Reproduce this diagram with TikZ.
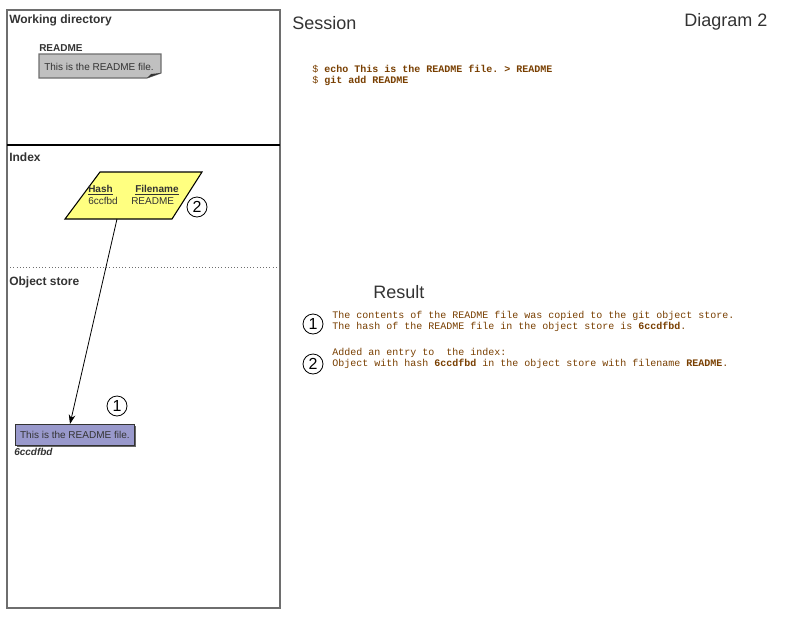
\documentclass[tikz,border=0pt]{standalone}
\usepackage{fontspec}
\setmainfont{Liberation Sans}
\setmonofont{Liberation Mono}
\usetikzlibrary{arrows.meta, shadows}
\definecolor{darktext}{RGB}{51,51,51}
\definecolor{paneline}{RGB}{110,110,110}
\definecolor{notegray}{RGB}{192,192,192}
\definecolor{idxyellow}{RGB}{255,255,128}
\definecolor{blobpurple}{RGB}{153,153,204}
\definecolor{monobrown}{RGB}{120,62,0}

\begin{document}
\begin{tikzpicture}[x=0.75pt, y=-0.75pt,
  area/.style={anchor=west, text=darktext, inner sep=0pt, font=\fontsize{9}{11}\selectfont\bfseries},
  heading/.style={anchor=west, text=darktext, inner sep=0pt, font=\fontsize{13.5}{16}\selectfont},
  small/.style={text=darktext, inner sep=0pt, font=\fontsize{7.5}{9}\selectfont},
  cmd/.style={anchor=west, text=monobrown, inner sep=0pt, align=left, font=\fontsize{7.5}{8.25}\selectfont\ttfamily},
  num/.style={circle, draw, semithick, inner sep=0pt, minimum size=15pt, font=\fontsize{12}{12}\selectfont},
  arr/.style={-{Stealth[length=7pt, width=5pt]}, semithick}
]
\useasboundingbox (0,0) rectangle (800,618);

% panel
\draw[paneline, thick] (7,10) rectangle (280,608);
\draw[line width=1.6pt] (7,145) -- (280,145);
\draw[dotted, paneline] (7,267) -- (280,267);
\node[area] (wd) at (9,20) {Working directory};
\node[area] (index) at (9,157) {Index};
\node[area] (store) at (9,282) {Object store};

% working directory file
\node[small, anchor=west, font=\fontsize{7.5}{9}\selectfont\bfseries] (wdname) at (39,48) {README};
\fill[notegray, draw=paneline, thick] (39,54) -- (161,54) -- (161,73) -- (147,78) -- (39,78) -- cycle;
\fill[black!80] (147,78) -- (151,74) -- (161,73) -- cycle;
\node[small, anchor=west] (wdfile) at (44,67) {This is the README file.};

% index entry
\draw[thick, fill=idxyellow] (100,172) -- (202,172) -- (172,219) -- (65,219) -- cycle;
\node[small, anchor=west, font=\fontsize{7.5}{9}\selectfont\bfseries] (hash) at (88,190) {\underline{Hash}};
\node[small, anchor=west, font=\fontsize{7.5}{9}\selectfont\bfseries] (fname) at (135,190) {\underline{Filename}};
\node[small, anchor=west] (hashval) at (88,201) {6ccfbd};
\node[small, anchor=west] (fnameval) at (131,201) {README};
\coordinate (idxout) at (117,219);
\node[num] (idxnum) at (197,207) {2};

% object store blob
\node[small, draw=darktext, thick, fill=blobpurple, minimum width=89pt, minimum height=15.75pt,
  anchor=north west, drop shadow={shadow xshift=1.2pt, shadow yshift=-1.2pt, opacity=1, fill=black!60}]
  (blob) at (15,424) {This is the README file.};
\node[small, anchor=west, font=\fontsize{7.5}{9}\selectfont\bfseries\itshape] (blobhash) at (14,452) {6ccdfbd};
\node[num] (blobnum) at (117,406) {1};
\draw[arr] (idxout) -- (blob.north west -| 70,0);

% session
\node[heading] (session) at (292,23) {Session};
\node[heading] (diag) at (684,22) {Diagram 2};
\node[cmd] (cmds) at (312,75) {\$ \textbf{echo This is the README file. > README}\\\$ \textbf{git add README}};

% result
\node[heading] (result) at (373,292) {Result};
\node[num] (res1) at (313,324) {1};
\node[cmd] (res1txt) at (332,321.5) {The contents of the README file was copied to the git object store.\\The hash of the README file in the object store is \textbf{6ccdfbd}.};
\node[num] (res2) at (313,364) {2};
\node[cmd] (res2txt) at (332,358) {Added an entry to\ \ the index:\\Object with hash \textbf{6ccdfbd} in the object store with filename \textbf{README}.};
\end{tikzpicture}
\end{document}
